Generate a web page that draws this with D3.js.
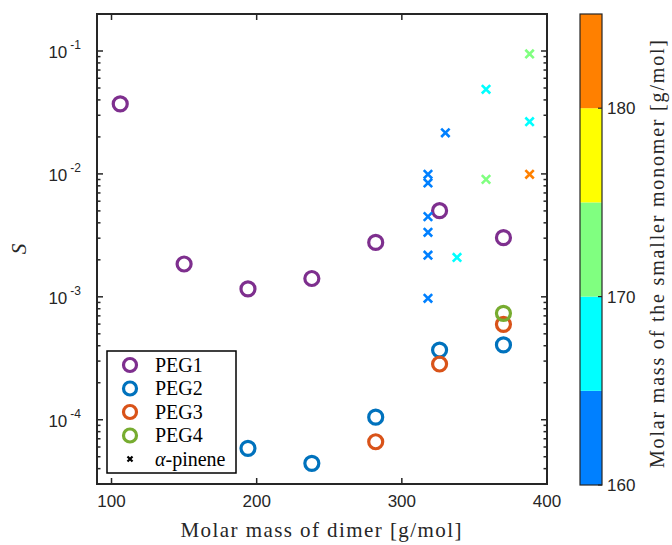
<!DOCTYPE html>
<html><head><meta charset="utf-8">
<script src="https://cdn.jsdelivr.net/npm/d3@7"></script>
<style>body{margin:0;background:#fff}svg{display:block}</style>
</head><body>
<svg id="c" width="672" height="545"></svg>
<script>
// ---- data ----
const peg1X = [106, 150, 194, 238, 282, 326, 370];
const peg1S = [0.0371, 0.00185, 0.00116, 0.00141, 0.00277, 0.00502, 0.00303];
const peg2X = [194, 238, 282, 326, 370];
const peg2S = [5.85e-5, 4.42e-5, 1.05e-4, 3.69e-4, 4.06e-4];
const peg3X = [282, 326, 370];
const peg3S = [6.62e-5, 2.84e-4, 5.97e-4];
const peg4X = [370];
const peg4S = [7.34e-4];
const pinX = [318, 318, 318, 318, 318, 318, 330, 338, 358, 358, 388, 388, 388];
const pinS = [0.00993, 0.00844, 0.00449, 0.00335, 0.00218, 0.000973, 0.0216, 0.00209, 0.0488, 0.00903, 0.0946, 0.0266, 0.00993];
const pinM = [162, 162, 162, 162, 162, 162, 162, 168, 168, 172, 172, 168, 183];
const seriesNames = ["PEG1", "PEG2", "PEG3", "PEG4"];
const seriesColors = ["#7E2F8E", "#0072BD", "#D95319", "#77AC30"];
const xTicks = [100, 200, 300, 400];
const yTickExp = [-4, -3, -2, -1];
const cbTicks = [160, 170, 180];
const cbBandEdges = [160, 165, 170, 175, 180, 185];
const cbBandColors = ["#0080FF", "#00FFFF", "#80FF80", "#FFFF00", "#FF8000"];

// ---- layout ----
const svg = d3.select("#c");
const L = 97, R = 547, T = 14, B = 484;
const x = d3.scaleLinear().domain([90, 400]).range([L, R]);
const y = d3.scaleLog().domain([3e-5, 0.2]).range([B, T]);
const cbY = d3.scaleLinear().domain([160, 185]).range([485, 14]);
const cbColor = d3.scaleThreshold().domain(cbBandEdges.slice(1, -1)).range(cbBandColors);
const axCol = "#262626";
const sans = "'Liberation Sans', Arial, sans-serif";
const serif = "'Liberation Serif', 'Times New Roman', serif";

// ---- markers ----
const pegSeries = [[peg1X, peg1S], [peg2X, peg2S], [peg3X, peg3S], [peg4X, peg4S]];
pegSeries.forEach(([xs, ss], i) => {
  svg.append("g").selectAll("circle").data(xs.map((v, j) => [v, ss[j]])).join("circle")
    .attr("cx", d => x(d[0])).attr("cy", d => y(d[1])).attr("r", 7)
    .attr("fill", "none").attr("stroke", seriesColors[i]).attr("stroke-width", 3.2);
});
const cross = (g, cx, cy, s, col, w) => {
  g.append("path").attr("d", `M${cx - s},${cy - s}L${cx + s},${cy + s}M${cx - s},${cy + s}L${cx + s},${cy - s}`)
    .attr("stroke", col).attr("stroke-width", w).attr("fill", "none");
};
const pg = svg.append("g");
pinX.forEach((v, i) => cross(pg, x(v), y(pinS[i]), 4.2, cbColor(pinM[i]), 2.6));

// ---- axes box & ticks ----
const ax = svg.append("g").attr("stroke", axCol).attr("fill", "none");
ax.append("rect").attr("x", L).attr("y", T).attr("width", R - L).attr("height", B - T).attr("stroke-width", 2);
xTicks.forEach(t => {
  ax.append("line").attr("x1", x(t)).attr("x2", x(t)).attr("y1", B).attr("y2", B - 6).attr("stroke-width", 1.5);
  ax.append("line").attr("x1", x(t)).attr("x2", x(t)).attr("y1", T).attr("y2", T + 6).attr("stroke-width", 1.5);
});
const [ymin, ymax] = y.domain();
for (let e = -5; e <= 0; e++) {
  for (let m = 1; m <= 9; m++) {
    const v = m * Math.pow(10, e);
    if (v < ymin || v > ymax) continue;
    const len = m === 1 ? 6 : 3.5;
    ax.append("line").attr("x1", L).attr("x2", L + len).attr("y1", y(v)).attr("y2", y(v)).attr("stroke-width", 1.5);
    ax.append("line").attr("x1", R).attr("x2", R - len).attr("y1", y(v)).attr("y2", y(v)).attr("stroke-width", 1.5);
  }
}
// tick labels
svg.append("g").selectAll("text").data(xTicks).join("text")
  .attr("x", d => x(d)).attr("y", 507).attr("text-anchor", "middle")
  .attr("font-family", sans).attr("font-size", 17).attr("fill", axCol).text(d => d);
const yl = svg.append("g");
yTickExp.forEach(e => {
  const t = yl.append("text").attr("x", 81).attr("y", y(Math.pow(10, e)) + 7).attr("text-anchor", "end")
    .attr("font-family", sans).attr("font-size", 17).attr("fill", axCol);
  t.append("tspan").text("10");
  t.append("tspan").attr("dx", 3).attr("dy", -9).attr("font-size", 12).text(String(e));
});
// axis labels
svg.append("text").attr("x", 321).attr("y", 537).attr("text-anchor", "middle")
  .attr("font-family", serif).attr("font-size", 21).attr("fill", axCol)
  .attr("textLength", 281).attr("lengthAdjust", "spacing").text("Molar mass of dimer [g/mol]");
svg.append("text").attr("transform", "translate(26,249) rotate(-90)").attr("text-anchor", "middle")
  .attr("font-family", serif).attr("font-style", "italic").attr("font-size", 21).attr("fill", axCol).text("S");

// ---- legend ----
const lg = svg.append("g");
lg.append("rect").attr("x", 107).attr("y", 351).attr("width", 129).attr("height", 122)
  .attr("fill", "#fff").attr("stroke", "#000").attr("stroke-width", 1.5);
const legY = [365, 388.5, 412, 435.5, 459];
seriesNames.forEach((n, i) => {
  lg.append("circle").attr("cx", 130).attr("cy", legY[i]).attr("r", 6.5)
    .attr("fill", "none").attr("stroke", seriesColors[i]).attr("stroke-width", 3.2);
  lg.append("text").attr("x", 155).attr("y", legY[i] + 6.5).attr("font-family", serif).attr("font-size", 20)
    .attr("fill", "#000").text(n);
});
cross(lg, 130, legY[4], 2.5, "#000", 2.2);
const at = lg.append("text").attr("x", 155).attr("y", legY[4] + 6.5).attr("font-family", serif).attr("font-size", 20).attr("fill", "#000");
at.append("tspan").attr("font-style", "italic").text("α");
at.append("tspan").text("-pinene");

// ---- colorbar ----
const cb = svg.append("g");
const cbL = 580, cbW = 22;
cb.selectAll("rect.band").data(cbBandColors).join("rect").attr("class", "band")
  .attr("x", cbL).attr("width", cbW)
  .attr("y", (d, i) => cbY(cbBandEdges[i + 1])).attr("height", (d, i) => cbY(cbBandEdges[i]) - cbY(cbBandEdges[i + 1]))
  .attr("fill", d => d);
cb.append("rect").attr("x", cbL).attr("y", cbY(185)).attr("width", cbW).attr("height", cbY(160) - cbY(185))
  .attr("fill", "none").attr("stroke", axCol).attr("stroke-width", 1.2);
cbTicks.forEach(t => {
  cb.append("line").attr("x1", cbL + cbW).attr("x2", cbL + cbW - 4).attr("y1", cbY(t)).attr("y2", cbY(t))
    .attr("stroke", axCol).attr("stroke-width", 1.2);
  cb.append("text").attr("x", 607).attr("y", cbY(t) + 6).attr("font-family", sans).attr("font-size", 17)
    .attr("fill", axCol).text(t);
});
svg.append("text").attr("transform", "translate(664,254) rotate(-90)").attr("text-anchor", "middle")
  .attr("font-family", serif).attr("font-size", 20).attr("fill", axCol)
  .attr("textLength", 428).attr("lengthAdjust", "spacing").text("Molar mass of the smaller monomer [g/mol]");
</script>
</body></html>
